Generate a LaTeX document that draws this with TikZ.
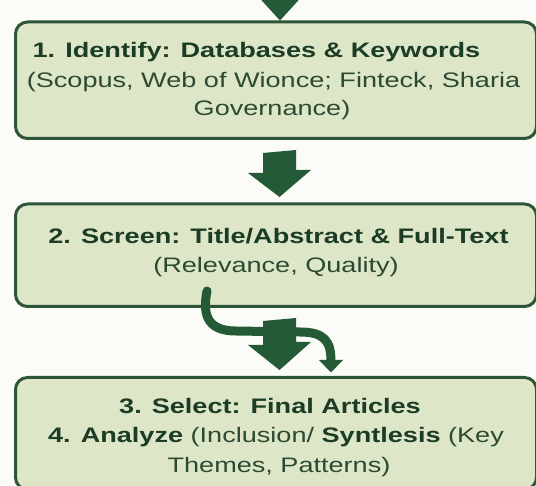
\documentclass[tikz,border=0pt]{standalone}
\usepackage{fontspec}
\setmainfont{Liberation Sans}[FakeStretch=1.29]
\usetikzlibrary{calc}
\definecolor{bgc}{HTML}{FBFBF8}
\definecolor{boxfill}{HTML}{DEE6C8}
\definecolor{boxline}{HTML}{2D5537}
\definecolor{arrowc}{HTML}{245A36}
\definecolor{boldtxt}{HTML}{1C3D25}
\definecolor{regtxt}{HTML}{2B4A31}
\tikzset{
  stagebox/.style={draw=boxline, line width=3pt, fill=boxfill, rounded corners=12pt},
  txtline/.style={anchor=base, inner sep=0pt, text=regtxt, font=\fontsize{21}{28}\selectfont},
  bigarrow/.style={fill=arrowc},
  curvearrow/.style={draw=arrowc, line width=9pt, line cap=round}
}
\begin{document}
\begin{tikzpicture}[x=1pt,y=-1pt]
\fill[bgc] (0,0) rectangle (536,486);
\useasboundingbox (0,0) rectangle (536,486);

% boxes
\node[stagebox, anchor=north west, minimum width=521pt, minimum height=116.5pt, inner sep=0pt] (b1) at (14,20.5) {};
\node[stagebox, anchor=north west, minimum width=521pt, minimum height=102.5pt, inner sep=0pt] (b2) at (14,202.5) {};
\node[stagebox, anchor=north west, minimum width=521pt, minimum height=112pt, inner sep=0pt] (b3) at (14,376) {};

% top incoming arrow head
\coordinate (topin) at (280,-14);
\fill[bigarrow] (topin) ++(-31.5,0) -- ++(63,0) -- (b1.north -| 280,0) ++(0,-5.5) -- cycle;
\fill[bigarrow] (248.5,-14) -- (311.5,-14) -- (280,15) -- cycle;

% arrow 1 -> 2
\fill[bigarrow] ($(b1.south)+(3.5,0)$) ++(-16.5,13) -- ++(0,20) -- ++(-15,0)
   -- ($(b2.north)+(3.5,-5.5)$) -- ++(31.5,-27) -- ++(-15,0) -- ++(0,-20) -- cycle;

% curved side arrow (drawn behind the main arrow)
\coordinate (cstart) at (207,291);
\draw[curvearrow] (cstart) .. controls (203,312) and (205,331) .. (236,331)
   -- (300,332) .. controls (324,332) and (331,341) .. (331,361);
\fill[bigarrow] (319,360) -- (343,360) -- ($(b3.north -| 331,0)+(0,-3.5)$) -- cycle;

% arrow 2 -> 3
\fill[bigarrow] ($(b2.south)+(3.5,0)$) ++(-16.5,13) -- ++(0,24) -- ++(-15,0)
   -- ($(b3.north)+(3.5,-6)$) -- ++(31.5,-28) -- ++(-15,0) -- ++(0,-24) -- cycle;

% texts
\node[txtline, text=boldtxt] (t1a) at (256.5,58) {\bfseries 1. Identify: Databases \& Keywords};
\node[txtline] (t1b) at (273.5,87.5) {(Scopus, Web of Wionce; Finteck, Sharia};
\node[txtline] (t1c) at (272,116) {Governance)};

\node[txtline, text=boldtxt] (t2a) at (278.5,243.5) {\bfseries 2. Screen: Title/Abstract \& Full-Text};
\node[txtline] (t2b) at (276,272.5) {(Relevance, Quality)};

\node[txtline, text=boldtxt] (t3a) at (270,414) {\bfseries 3. Select: Final Articles};
\node[txtline] (t3b) at (276,443) {{\bfseries\color{boldtxt}4. Analyze} (Inclusion/ {\bfseries\color{boldtxt}Syntlesis} (Key};
\node[txtline] (t3c) at (279,472) {Themes, Patterns)};
\end{tikzpicture}
\end{document}
